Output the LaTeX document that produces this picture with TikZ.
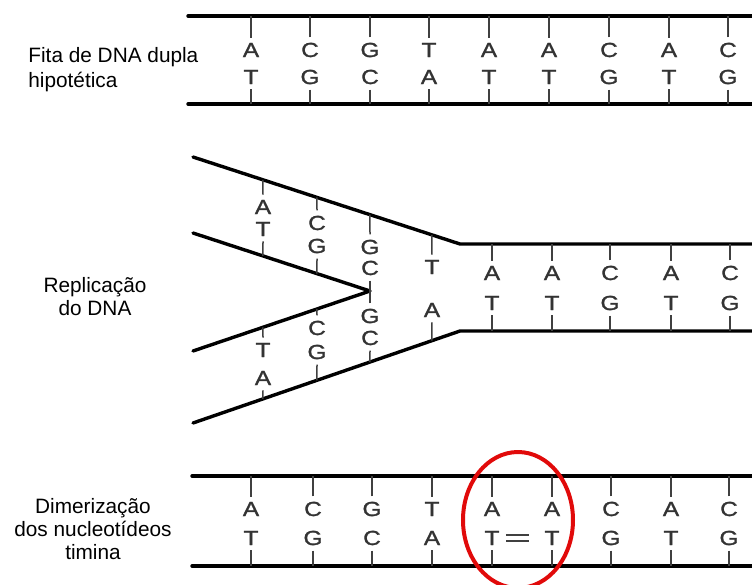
\documentclass[tikz,border=0pt]{standalone}
\usepackage{fontspec}
\setmainfont{Liberation Sans}
\newfontfamily\basefont[FakeStretch=1.2, FakeBold=1.3]{Liberation Sans}
\usetikzlibrary{calc}
\definecolor{ringred}{RGB}{225,10,10}

\begin{document}
\begin{tikzpicture}[x=0.5pt, y=-0.5pt, every node/.style={font=\fontsize{10.4}{11.5}\selectfont}]
\tikzstyle{strand}=[line width=1.7pt, line cap=round, line join=round]
\tikzstyle{base}=[font=\basefont\fontsize{10.2}{11}\selectfont, text=black!80, inner sep=2.5pt]
\tikzstyle{tick}=[line width=0.75pt, black!75]
\tikzstyle{caption}=[align=center, inner sep=0pt]
\tikzstyle{dimer}=[double, double distance=2.4pt, line width=0.8pt, black!75, shorten <=0.5pt, shorten >=5pt]
\tikzstyle{dimerring}=[ringred, line width=2pt]
\useasboundingbox (0,0) rectangle (752,585);

% double strand
\coordinate (s1) at (188,16);
\coordinate (s2) at (188,104);
\draw[strand] (s1) -- (752,16);
\draw[strand] (s2) -- (752,104);
\foreach \t/\b/\x [count=\i] in {A/T/251, C/G/310, G/C/370, T/A/429, A/T/489, A/T/549, C/G/609, A/T/669, C/G/728} {
  \node[base] (p\i) at (\x,50) {\t};
  \node[base] (q\i) at (\x,77) {\b};
  \draw[tick] (p\i.north) -- (p\i.north |- s1);
  \draw[tick] (q\i.south) -- (q\i.south |- s2);
}
\node[caption, align=left, anchor=north west, font=\fontsize{10.4}{12.5}\selectfont] (fita) at (28,47) {Fita de DNA dupla\\hipotética};

% replication fork
\coordinate (uo) at (193,157);
\coordinate (ub) at (460,244);
\coordinate (ui) at (193,233);
\coordinate (fork) at (370,291);
\coordinate (li) at (193,351);
\coordinate (lo) at (193,423);
\coordinate (lb) at (460,331);
\draw[strand] (uo) -- (ub) -- (752,244);
\draw[strand] (ui) -- (fork) -- (li);
\draw[strand] (lo) -- (lb) -- (752,331);
\foreach \x/\t/\yt/\b/\yb [count=\i] in {263/A/207/T/229, 317/C/223/G/246, 370/G/247/C/268} {
  \pgfmathsetmacro\u{(\x-193)/267}
  \pgfmathsetmacro\v{(\x-193)/177}
  \node[base] (fa\i) at (\x,\yt) {\t};
  \node[base] (fb\i) at (\x,\yb) {\b};
  \draw[tick] (fa\i.north) -- ($(uo)!\u!(ub)$);
  \draw[tick] (fb\i.south) -- ($(ui)!\v!(fork)$);
}
\foreach \x/\t/\yt/\b/\yb [count=\i] in {263/T/350/A/378, 317/C/328/G/352, 370/G/316/C/338} {
  \pgfmathsetmacro\u{(\x-193)/267}
  \pgfmathsetmacro\v{(\x-193)/177}
  \node[base] (fc\i) at (\x,\yt) {\t};
  \node[base] (fd\i) at (\x,\yb) {\b};
  \draw[tick] (fc\i.north) -- ($(li)!\v!(fork)$);
  \draw[tick] (fd\i.south) -- ($(lo)!\u!(lb)$);
}
\node[base] (fe) at (432,267) {T};
\node[base] (ff) at (432,310) {A};
\draw[tick] (fe.north) -- ($(uo)!0.895!(ub)$);
\draw[tick] (ff.south) -- ($(lo)!0.895!(lb)$);
\foreach \t/\b/\x [count=\i] in {A/T/492, A/T/552, C/G/610, A/T/671, C/G/730} {
  \node[base] (ra\i) at (\x,273) {\t};
  \node[base] (rb\i) at (\x,303) {\b};
  \draw[tick] (ra\i.north) -- (ra\i.north |- ub);
  \draw[tick] (rb\i.south) -- (rb\i.south |- lb);
}
\node[caption] (repl) at (95,297) {Replicação\\do DNA};

% thymine dimer
\coordinate (d1) at (192,476);
\coordinate (d2) at (192,566);
\draw[strand] (d1) -- (752,476);
\draw[strand] (d2) -- (752,566);
\foreach \t/\b/\x [count=\i] in {A/T/251, C/G/313, G/C/372, T/A/432, A/T/492, A/T/552, C/G/611, A/T/671, C/G/729} {
  \node[base] (m\i) at (\x,509) {\t};
  \node[base] (n\i) at (\x,538) {\b};
  \draw[tick] (m\i.north) -- (m\i.north |- d1);
  \draw[tick] (n\i.south) -- (n\i.south |- d2);
}
\draw[dimer] (n5) -- (n6);
\draw[dimerring] (518,520) ellipse [x radius=27.5pt, y radius=34pt];
\node[caption] (dimtxt) at (93,529) {Dimerização\\dos nucleotídeos\\timina};
\end{tikzpicture}
\end{document}
